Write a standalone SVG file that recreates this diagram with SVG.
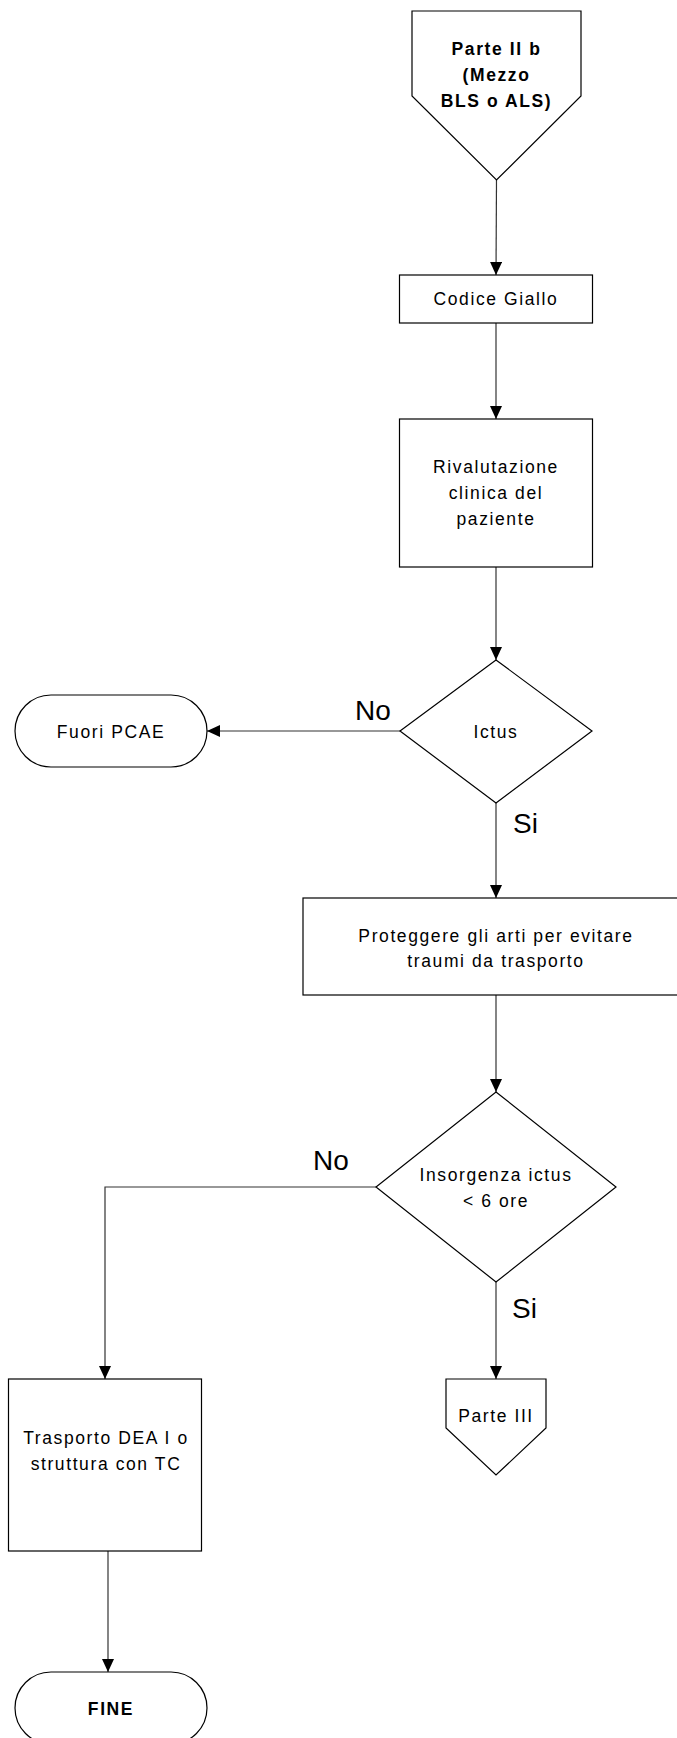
<svg xmlns="http://www.w3.org/2000/svg" width="677" height="1738" viewBox="0 0 677 1738">
  <defs>
    <marker id="arrow" viewBox="0 0 13 12" refX="13" refY="6" markerWidth="13" markerHeight="12" markerUnits="userSpaceOnUse" orient="auto">
      <path d="M0,0 L13,6 L0,12 Z" fill="#000"/>
    </marker>
  </defs>
  <style>
    .shape { fill: #fff; stroke: #000; stroke-width: 1.2; }
    .edge { fill: none; stroke: #333; stroke-width: 1.2; marker-end: url(#arrow); }
    .lbl { font-family: "Liberation Sans", Arial, sans-serif; font-size: 17.5px; letter-spacing: 1.6px; fill: #000; text-anchor: middle; }
    .bold { font-weight: bold; }
    .branch { font-family: "Liberation Sans", Arial, sans-serif; font-size: 28px; fill: #000; }
  </style>
  <rect width="677" height="1738" fill="#fff"/>

  <!-- connectors and branch labels -->
  <g id="connectors">
    <path class="edge" d="M496.5,180 L496,275"/>
    <path class="edge" d="M496,323 L496,419"/>
    <path class="edge" d="M496,567 L496,660"/>
    <path class="edge" d="M400,731 L207,731"/>
    <path class="edge" d="M496,803 L496,898"/>
    <path class="edge" d="M496,995 L496,1092"/>
    <path class="edge" d="M376,1187 L105,1187 L105,1379"/>
    <path class="edge" d="M496,1282 L496,1379"/>
    <path class="edge" d="M108,1551 L108,1672"/>
    <text class="branch" x="355" y="720">No</text>
    <text class="branch" x="513" y="833">Si</text>
    <text class="branch" x="313" y="1170">No</text>
    <text class="branch" x="512" y="1318">Si</text>
  </g>

  <!-- entry point: off-page connector -->
  <g id="start">
    <path class="shape" d="M412,11 L581,11 L581,96 L496.5,180 L412,96 Z"/>
    <text class="lbl bold" x="496.5" y="55">Parte II b</text>
    <text class="lbl bold" x="496.5" y="81">(Mezzo</text>
    <text class="lbl bold" x="496.5" y="107">BLS o ALS)</text>
  </g>

  <g id="codice-giallo">
    <rect class="shape" x="399.5" y="275" width="193" height="48"/>
    <text class="lbl" x="496" y="305">Codice Giallo</text>
  </g>

  <g id="rivalutazione">
    <rect class="shape" x="399.5" y="419" width="193" height="148"/>
    <text class="lbl" x="496" y="473">Rivalutazione</text>
    <text class="lbl" x="496" y="499">clinica del</text>
    <text class="lbl" x="496" y="525">paziente</text>
  </g>

  <g id="ictus">
    <path class="shape" d="M496,660 L592,731 L496,803 L400,731 Z"/>
    <text class="lbl" x="496" y="738">Ictus</text>
  </g>

  <g id="fuori-pcae">
    <rect class="shape" x="15" y="695" width="192" height="72" rx="36" ry="36"/>
    <text class="lbl" x="111" y="738">Fuori PCAE</text>
  </g>

  <g id="proteggere">
    <rect class="shape" x="303" y="898" width="386" height="97"/>
    <text class="lbl" x="496" y="942">Proteggere gli arti per evitare</text>
    <text class="lbl" x="496" y="967">traumi da trasporto</text>
  </g>

  <g id="insorgenza">
    <path class="shape" d="M496,1092 L616,1187 L496,1282 L376,1187 Z"/>
    <text class="lbl" x="496" y="1181">Insorgenza ictus</text>
    <text class="lbl" x="496" y="1207">&lt; 6 ore</text>
  </g>

  <g id="parte-iii">
    <path class="shape" d="M446,1379 L546,1379 L546,1428 L496,1475 L446,1428 Z"/>
    <text class="lbl" x="496" y="1422">Parte III</text>
  </g>

  <g id="trasporto">
    <rect class="shape" x="8.5" y="1379" width="193" height="172"/>
    <text class="lbl" x="106" y="1444">Trasporto DEA I o</text>
    <text class="lbl" x="106" y="1470">struttura con TC</text>
  </g>

  <g id="fine">
    <rect class="shape" x="15" y="1672" width="192" height="72" rx="36" ry="36"/>
    <text class="lbl bold" x="111" y="1715">FINE</text>
  </g>
</svg>
